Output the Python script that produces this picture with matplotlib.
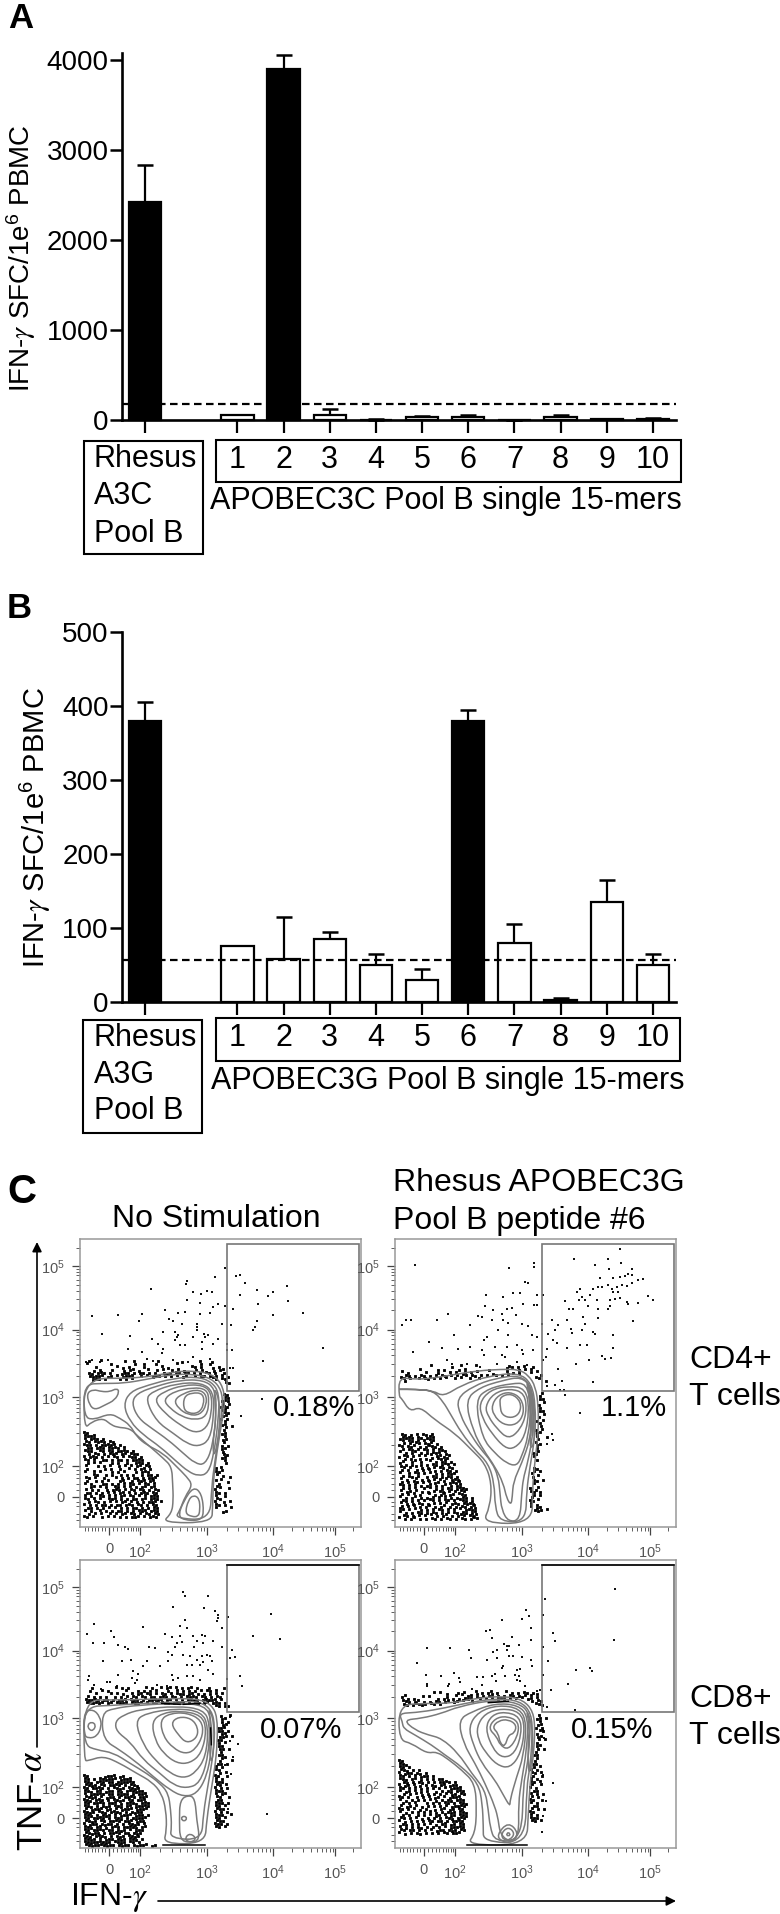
import numpy as np
import matplotlib
matplotlib.use("Agg")
import matplotlib.pyplot as plt
from matplotlib.patches import PathPatch, Rectangle, FancyArrowPatch
from matplotlib.path import Path
from matplotlib.transforms import blended_transform_factory

plt.rcParams['font.family'] = ['Liberation Sans', 'DejaVu Sans']
plt.rcParams['mathtext.fontset'] = 'stix'

W, H = 780, 1914

# Bar panels
BAR_X = [0, 2, 3, 4, 5, 6, 7, 8, 9, 10, 11]
BAR_NAMES = ['1', '2', '3', '4', '5', '6', '7', '8', '9', '10']
A_VALUES = [2420, 60, 3900, 60, 5, 30, 35, 0, 35, 8, 12]
A_ERR = [410, 0, 160, 60, 2, 10, 20, 0, 25, 2, 8]
A_BLACK = [0, 3]
A_CUTOFF = 175
A_TICKS = [0, 1000, 2000, 3000, 4000]
B_VALUES = [380, 75, 58, 85, 50, 30, 380, 80, 3, 135, 50]
B_ERR = [25, 0, 57, 10, 15, 15, 15, 25, 2, 30, 15]
B_BLACK = [0, 7]
B_CUTOFF = 57
B_TICKS = [0, 100, 200, 300, 400, 500]

# Flow plots, all in display channels (0-843 across, 0-864 up)
X_MAJOR = [87, 180, 381, 579, 765]
Y_MAJOR = [90, 182, 390, 592, 782]
X_LABELS = ['0', r'$\mathregular{10^{2}}$', r'$\mathregular{10^{3}}$', r'$\mathregular{10^{4}}$', r'$\mathregular{10^{5}}$']
Y_LABELS = ['0', r'$\mathregular{10^{2}}$', r'$\mathregular{10^{3}}$', r'$\mathregular{10^{4}}$', r'$\mathregular{10^{5}}$']
X_MINOR = [15, 25, 35, 45, 55, 65, 75, 100, 112, 123, 133, 143, 152, 160, 167, 174,
           240, 275, 300, 320, 335, 350, 362, 372, 440, 475, 500, 518, 533, 546, 558, 569,
           635, 668, 692, 710, 725, 738, 749, 758, 820]
Y_MINOR = [20, 40, 62, 75, 110, 130, 148, 160, 172, 245, 282, 308, 328, 344, 358, 370, 381,
           453, 490, 515, 535, 550, 564, 575, 584, 650, 684, 708, 726, 742, 755, 766, 775, 838]
GATE = (442, 408, 838, 848)

P1_DOTS = [(435,777),(405,751),(467,752),(480,755),(495,733),(320,738),(317,728),(212,715),(338,704),(363,700),
           (380,707),(395,704),(532,712),(580,705),(620,722),(563,692),(480,697),(625,678),(535,668),(415,668),
           (435,662),(400,660),(460,654),(320,680),(360,672),(255,650),(295,642),(315,645),(360,640),(390,642),
           (668,642),(580,635),(187,638),(115,635),(37,632),(177,618),(268,624),(280,618),(305,610),(350,610),
           (425,608),(452,605),(530,618),(525,600),(520,592),(65,578),(150,572),(250,585),(285,585),(290,570),
           (340,570),(372,580),(385,575),(215,565),(300,547),(315,547),(365,555),(400,550),(415,565),(440,550),
           (235,548),(250,535),(145,535),(365,535),(440,532),(455,530),(730,538),(245,522),(187,524),(548,498),
           (200,505),(220,498),(280,500),(325,495),(340,510),(390,505),(450,478),(460,478),(490,438),(547,384),
           (482,332),(17,495),(37,500),(60,495),(85,500),(350,600),(352,590),(285,560),(295,575),(375,570)]

P2_DOTS = [(60,785),(343,777),(417,792),(417,780),(538,803),(675,833),(640,803),(677,792),(643,775),(600,787),
           (710,775),(700,760),(690,753),(710,755),(615,747),(655,748),(675,750),(745,743),(730,740),(710,732),
           (595,715),(610,720),(620,720),(640,725),(650,715),(665,720),(680,725),(555,715),(545,705),(655,705),
           (670,705),(695,722),(560,690),(570,682),(553,680),(585,695),(605,680),(645,680),(660,685),(675,688),
           (760,693),(773,682),(730,672),(695,675),(700,670),(510,678),(533,655),(523,655),(580,662),(610,655),
           (640,655),(645,662),(565,630),(610,628),(715,618),(570,608),(560,590),(470,620),(490,605),(515,620),
           (527,595),(530,582),(460,580),(480,590),(595,585),(600,578),(655,575),(475,560),(485,552),(555,545),
           (577,545),(515,538),(653,538),(455,535),(452,510),(620,512),(630,505),(648,508),(583,500),(542,488),
           (445,502),(490,475),(500,438),(595,435),(480,425),(455,422),(495,412),(508,410),(510,397),(555,342),
           (470,278),(473,260),(455,248),(272,695),(325,690),(353,702),(375,702),(400,732),(390,735),(425,695),
           (425,665),(417,665),(270,663),(295,650),(335,655),(350,658),(363,635),(383,668),(445,695),(250,632),
           (260,630),(290,622),(320,638),(325,620),(340,613),(380,610),(400,603),(442,610),(160,638),(127,622),
           (47,622),(33,620),(20,605),(225,605),(177,575),(102,555),(275,570),(267,560),(310,590),(340,575),
           (410,575),(425,570),(140,538),(190,535),(225,540),(260,532),(300,540),(335,540),(365,545),(380,530),
           (415,530),(55,525),(267,515),(320,515),(330,510),(385,520),(155,500),(170,490),(215,490),(255,480),
           (305,490),(365,495),(395,485)]

P3_DOTS = [(310,768),(315,757),(385,757),(280,723),(372,719),(405,710),(415,700),(415,690),(410,680),(443,693),
           (315,683),(43,672),(300,667),(320,659),(190,663),(427,659),(93,650),(20,643),(255,643),(277,633),
           (300,637),(338,637),(365,640),(375,637),(102,633),(40,615),(72,615),(115,609),(290,615),(305,617),
           (350,620),(370,615),(400,620),(135,603),(145,597),(207,603),(225,599),(285,603),(343,603),(425,603),
           (265,587),(275,580),(310,580),(330,577),(457,593),(450,570),(465,573),(365,575),(380,580),(390,575),
           (395,560),(370,558),(350,563),(70,560),(127,562),(153,563),(200,560),(265,560),(190,547),(240,547),
           (320,550),(335,550),(360,550),(385,535),(400,523),(158,530),(175,523),(115,519),(27,517),(155,510),
           (170,505),(165,495),(25,505),(80,497),(90,497),(275,519),(295,510),(320,515),(340,515),(360,505),
           (280,505),(440,508),(480,515),(486,485),(43,490),(63,477),(110,485),(260,485),(230,490),(450,393),
           (450,320),(475,312),(460,273),(435,250),(453,222),(445,117),(560,102),(520,635),(573,703),(600,626)]

P4_DOTS = [(660,777),(658,625),(450,747),(392,714),(402,697),(382,687),(320,683),(443,699),(408,659),(285,653),
           (272,650),(473,645),(290,630),(350,633),(408,623),(480,620),(445,603),(327,613),(335,605),(343,605),
           (372,610),(95,599),(165,599),(223,595),(227,570),(307,593),(295,588),(277,563),(305,570),(335,593),
           (343,575),(355,575),(380,573),(407,565),(67,555),(460,560),(542,535),(585,540),(590,532),(320,540),
           (325,545),(300,523),(290,515),(365,535),(375,537),(360,520),(372,515),(412,547),(178,525),(92,519),
           (138,515),(192,510),(195,497),(247,513),(265,513),(302,500),(330,515),(445,519),(520,492),(467,475),
           (97,493),(95,485),(163,493),(160,485),(260,489),(230,477),(365,505),(375,500),(390,485),(425,470),
           (435,475),(540,415),(455,422),(445,355),(448,330),(445,220),(475,195),(453,140),(445,95),(442,47)]

# dense events, one character per 9 channels: band above the contours
P1_BAND = [".#...#.......#..#.......#.......#.....#...#.....",
           "#.......#.......#..#...#......#.......#..#......",
           "...#......#.#.#....#.....#.#.......##.#...#.#...",
           "..#.#...#...#.##.#..#..#.#..#.#.#...#.#...#.##..",
           ".##.###.#...###.#.##.#.#..###.##.##.#.#.##.#..#.",
           ".#####.##.#.####..#.#.###.#.#.#.##..#.##.###.#.#",
           "..###.#....#.#.#...........................#.##.",
           "..............................................##"]
P2_BAND = ["..........#......#..#....#..........##.#.#..#...",
           "......#.....#.#....#.#.......#.....#...#.#.#....",
           "#.#.....#...#...#.#..#.#.#.........#.#.#...#.#..",
           ".##.#.##.#.#.##.#.#.##.##.#.#.##.#.#..........#.",
           "##.#..#.##.#.#.#..#.#..#..#..................##.",
           ".#..............................................#"]
P3_BAND = ["..#.......#.#.#.....#.#..#.##.#.#.##.#...#....#.",
           ".#...#.#.....#...#.#.#.#...#..#.#.#.#.#.##.#....",
           "...#....#.#.#..#.##.##.#.##.#.###.##.#.#.#.#.#..",
           "#.#.#.#..#.#.#.##.##.##.###.##.#.####.##.#.##...",
           "#####.##.#.###.###.#.#####.##.#.#.####.#####.#..",
           "######.##.####.####.#.##.###.####.#.##.##.###.#.",
           "...........................................##.##"]
P4_BAND = ["...........#.#.....#.#...#.#.##.#..#.#.#.##.#...",
           ".#.....#.#.....#..#.#.##.#.#.##.#.#.##.#.#.#.#..",
           "#.#.#.......#.##.#.#.###.##.#.#.###.#.#.#.##.#..",
           "###.##.#.#.##.##.##.#..#...................#.##..",
           ".##.#####.##.#...............................###"]

# dense events along the right side of the contours
P1_SIDE = ["...##.","...##.","..###.","..#.#.","..###.","..##..","...##.","..##..","..#.#.","...#..",
           "..##..","...#.#","...#..","..##..","...#..","..##..","...#..","..#.#.","..##..","..#...",
           "...##.","..##..","...#..","...#..","..#...","#.#...","##....","#.#...","..#..#","#...#.",
           ".#....","##..#.","#.....","##.#..","#..#..","##....","#..#.#","##.#..","#....#","..##.."]
P2_SIDE = ["....#.","...#..","...##.","....#.","...#..","...#..","...##.","....#.","...#..","..#.#.",
           "...#..","...#..","..#.#.","..##..","..#...","..#..#","..#...","..##..","..#...","..#...",
           ".##...",".#....","..#...","......","......",".##...",".#.#..","#.#...",".#....",".##.#.",
           ".#....","..#...","#.#...","##.#..",".#.#..","#.#...","##....","#.#...","#.##..",".###.#"]
P3_SIDE = ["..#..#","..##..","..#.#.","..##..",".###..",".##.#.","..##..",".###.#",".##...",".#.#..",
           ".##...",".##.#.","..#...",".##...","..##..",".#...#",".##.#.","#.#...","##....",".#.#..",
           "##..#.","#.#...","###...","##.#..","#.#.#.","###...","#.##..","##..#.",".##...","###.#.",
           "##.#..","###...","#.#.#.","###..#","##.#..","###...","###.#.","##.#.."]
P4_SIDE = ["...#..","..##.#","...#..","..##..","..#.#.","...##.","..#...","..##..","...#.#","..#...",
           "..##..","..#.#.","..#...",".##...","..#...",".#....",".##...",".#.#..","#.#...","##.#..",
           ".#..#.","#.#...","##.#..","#..#..","#.#...",".##...","#.#.#.","#.#...","##..#.","#.#...",
           ".##...","#.#.#.","##....","#.#...","###...","##.#.."]

# dark cloud in the lower left corner
P1_CLOUD = ["##.", "####", "#.###.#", "##.####.##", "###.#.#####.#", ".##.###.####.#",
            "###..##.##.####.#", ".#.##.#.###.##.###", "#.###.#.#.##.#.###.#", "##.#..##.#.##.#.####",
            ".#.#.#...#.#..#..###.#", "#...#.#.#..#.#.#.##.##", ".#.....#.#..#..#.#.##.#", "#..#.#...#.#.#...#.###",
            "...##..#.#..#.#.#..#.##.#", "##.#..#...#.#.#.##.#.###", ".#..#.#.#...##..#.###.##", "#.#...##.#.#.#.##.#.##.#",
            "..##.#.#..##.#.#.#.##.##.", "#.#.#..#.###.#.##.##.#.##", ".##.#.#.#.#.##.#.#.###.##", "#.#..##.#.#.##.##.#.#.###",
            "##.#.#..###.#.#.##.##.###", ".#.##.#.#.#.##.#.#.#.###.#", "#.#.#.##.#.##.###.##.#.##", ".##.#.#.#.#.#.#.##.#.#.##.",
            "#.#..#.#.#.##.#.#.###.###", ".#.#.#..#.#.##.##.#.##.##.", "##.#..#.#.#.#.#.###.#.###"]
P2_CLOUD = [".##.#.#.##.#", ".####.##.###", "##.##.#.#.##.", ".#.#.##.###.#.", "##.###.#.####.#", ".#.##.#.##.#.##.",
            "#.#.##.#.#.###.#", ".##.#.#.#.#.##.##", "#.#.#..#.#.#.####", ".#..##.#..#.#.##.#",
            "#.#.#..#.#.##.###.#", "##.#.#.#.#.#.##.##", ".#.#..#.#.#.#.#.##.#", "#..#.##.#.#.#.#.###",
            ".#.##.#..#.##.#.##.#", "#.#..#.#.#.#.#.#.###.", ".#.#.##.#.#.##.#.####", "##.#.#.#.##.#.##.#.##.",
            ".#.#.#..#.#.#.#.##.####", "#.##.#.#.#.#.##.#.#.##.", ".#.#.#.#..#.#.##.##.###", "#.#.##.#.#.#.#.#.#.#.##.#",
            ".##.#.#.#.##.#.##.#.###.#", "#.#.#.##.#.#.#.#.###.####", ".#.#.#.#.##.#.##.#.#.##.##", "##.#.#.#.#.#.##.#.#.#.####",
            "#.#.#.##.#.##.#.#.##.##.##", ".##.#.#.#.#.#.##.#.###.###", "#.#.##.#.#.##.#.##.#.##.###"]
P3_CLOUD = ["##.....####.##", "##.#.######.####", "###.###.##.######", "####.##.####.#.###", "##.####.#.####.####",
            "###.##.###.##.######", "#.#####.##.####.#.###", "####.#.###.#.####.###", "###.###.#.####.##.###",
            "##.####.###.#.####.###", "###.#.###.###.##.#####", "#.####.##.#.####.####", "####.###.####.#.####",
            "###.#.###.#.####.###.#", "##.####.#.###.#.#####", "####.##.####.###.###", "#.###.####.#.#.####.#",
            "###.##.#.###.#####.##", "##.####.##.###.#.###", "#####.#.####.##.###", "###.####.#.###.####",
            "####.#.###.###.###.#", "#########.####.##.#...", "##########.####.#####.##"]
P4_CLOUD = ["##", "###", "##.#", "###.#.#", "#.###.##.#", "##.#.#.###.#", "###.##.#.#.#.##", ".##.#.##.#.#.####.#",
            "#.##.#.#.#.##.##.###", "##.#.#.#.#.#.#.#.####", "#.##.#.#.#..#.#.##.###", ".#.#.#.#.#.#.#.#.##.##",
            "##.#..#.#.#.##.#.####.", "#.#.#.#.#.#.#.#.##.###", ".#.#.#...#.#.#.##.#.###", "#.##.#.#.#.#.#.#.#####",
            "##.#.#.#.#..#.##.##.##.", "#.#.#.#.#.#.#.#.###.###", ".#.#..#.#.#.##.#.##.###", "##.#.#.#.#.#.#.###.###",
            "#.#.#.#.#.##.##.#.####", ".##.#.#.#.#.#.##.##.##", "#.#.#.##.#.#.#.#.#####", "##.##.#.#.#.###.###.##",
            "#.#.#.##.#.#.#.##.###"]

P1_CONTOURS = [
    [(12,446),(12,293),(35,316),(70,326),(90,309),(110,299),(150,296),(175,271),(210,241),(250,206),(275,181),(278,131),(280,81),(275,41),(245,13),(395,13),(398,61),(400,141),(410,221),(425,311),(436,381),(425,431),(395,459),(340,469),(280,465),(220,453),(150,446)],
    [(12,428),(70,431),(130,431),(200,443),(270,457),(340,459),(395,446),(425,411),(428,361),(418,281),(405,201),(395,121),(390,21),(285,26),(300,51),(315,91),(338,126),(320,151),(290,181),(250,221),(200,246),(170,271),(150,306),(120,326),(90,341),(40,321),(12,331)],
    [(20,401),(40,413),(65,406),(90,406),(110,416),(118,406),(105,381),(75,366),(45,351),(28,366)],
    [(130,366),(150,406),(205,426),(280,446),(350,451),(395,436),(418,401),(415,321),(402,221),(385,161),(355,153),(325,166),(290,196),(240,241),(190,276),(150,316)],
    [(155,371),(170,401),(230,423),(300,441),(370,441),(405,416),(410,351),(398,241),(375,186),(345,191),(310,221),(265,261),(215,296),(175,326)],
    [(197,381),(215,406),(290,431),(365,433),(400,406),(402,341),(390,261),(355,241),(320,251),(280,281),(230,316)],
    [(222,381),(250,406),(310,426),(370,426),(395,401),(395,341),(380,296),(345,281),(300,306),(255,341)],
    [(250,381),(280,406),(340,419),(380,413),(388,381),(380,331),(345,321),(305,331),(270,356)],
    [(282,381),(310,401),(350,413),(378,401),(380,366),(360,336),(325,336),(295,356)],
    [(312,391),(335,403),(370,401),(372,366),(355,341),(325,341),(310,356)],
    [(315,41),(325,81),(340,96),(358,86),(360,51),(355,31),(335,31)],
    [(295,36),(310,76),(340,121),(365,101),(372,41),(360,19),(310,21)],
    [(402,420),(418,380),(420,320),(412,250),(402,210),(398,250),(408,320),(405,380)],
]
P2_CONTOURS = [
    [(12,449),(60,443),(110,446),(170,456),(250,469),(320,473),(370,473),(400,456),(422,421),(430,361),(430,281),(420,201),(412,111),(412,11),(262,11),(285,61),(290,131),(270,191),(230,231),(180,281),(120,321),(75,361),(45,346),(20,386),(12,391)],
    [(12,413),(60,413),(115,409),(145,391),(200,426),(280,453),(370,463),(410,431),(422,361),(420,271),(405,181),(395,111),(392,16),(315,16),(300,61),(298,131),(280,191),(240,231),(200,281),(165,341),(145,375),(115,409),(60,413),(12,413)],
    [(185,386),(235,423),(300,446),(375,456),(410,421),(418,351),(412,261),(395,181),(385,146),(380,101),(375,21),(340,16),(320,51),(315,101),(310,151),(290,196),(255,236),(225,281),(195,336)],
    [(210,381),(255,419),(320,439),(380,451),(410,416),(413,341),(405,261),(380,191),(355,136),(352,91),(348,66),(335,86),(325,131),(300,181),(265,231),(235,286)],
    [(240,381),(280,416),(350,431),(395,431),(408,361),(400,271),(380,211),(365,183),(335,191),(300,221),(262,266)],
    [(252,371),(285,411),(340,423),(392,416),(403,351),(390,271),(360,236),(330,236),(290,281),(262,326)],
    [(270,361),(295,401),(345,416),(390,401),(395,341),(375,291),(340,263),(305,296),(280,331)],
    [(290,366),(310,396),(345,406),(380,386),(388,341),(365,306),(325,306),(295,336)],
    [(315,391),(350,401),(378,376),(375,341),(350,326),(320,336),(315,366)],
    [(392,450),(415,385),(422,310),(415,240),(404,240),(408,310),(404,385)],
    [(398,440),(410,385),(416,310),(412,260),(410,310),(406,385)],
]
P3_CONTOURS = [
    [(12,444),(100,444),(200,446),(300,449),(360,446),(395,429),(412,394),(412,314),(405,244),(395,184),(380,84),(375,14),(250,12),(260,54),(258,114),(245,164),(215,199),(170,224),(120,254),(70,276),(25,262),(12,262)],
    [(12,424),(100,428),(190,434),(300,439),(360,439),(395,414),(405,364),(400,284),(385,194),(370,104),(365,24),(270,29),(275,64),(272,114),(265,164),(240,194),(200,224),(150,254),(100,286),(50,294),(12,309)],
    [(12,409),(40,416),(60,394),(65,364),(50,334),(25,329),(12,339)],
    [(22,369),(35,379),(48,369),(40,352),(28,354)],
    [(65,404),(100,419),(180,429),(290,434),(375,429),(395,384),(395,294),(380,214),(350,162),(310,154),(270,174),(220,214),(180,249),(120,294),(70,324)],
    [(105,379),(130,399),(180,416),(290,426),(370,416),(390,374),(385,274),(360,194),(320,179),(280,189),(240,224),(190,264),(150,319),(110,349)],
    [(165,379),(195,404),(290,419),(365,409),(385,364),(378,274),(345,224),(310,209),(270,224),(225,264),(190,309)],
    [(215,379),(245,404),(300,412),(365,399),(380,354),(365,284),(330,254),(290,254),(250,284),(225,324)],
    [(240,384),(270,404),(320,406),(365,384),(370,339),(345,294),(315,282),(280,299),(250,334)],
    [(272,374),(295,394),(335,389),(355,359),(350,329),(320,314),(295,339)],
    [(302,89),(312,97),(322,89),(312,79)],
    [(315,31),(330,44),(348,31),(340,19),(322,19)],
    [(300,24),(298,84),(300,144),(325,159),(345,149),(350,84),(360,24),(330,16)],
    [(385,425),(402,380),(402,300),(394,250),(388,300),(392,380)],
]
P4_CONTOURS = [
    [(12,429),(90,434),(170,434),(240,449),(330,456),(385,444),(415,409),(420,354),(415,274),(405,194),(400,104),(395,9),(215,9),(240,44),(245,114),(240,194),(200,234),(160,266),(125,289),(95,284),(50,314),(12,324)],
    [(12,404),(60,406),(130,416),(210,434),(300,449),(375,442),(410,404),(412,334),(405,244),(395,184),(390,14),(265,19),(265,64),(262,134),(250,194),(200,244),(150,279),(110,309),(60,339),(25,359),(22,379)],
    [(25,384),(80,389),(140,404),(190,424),(290,444),(370,436),(405,404),(405,324),(395,234),(385,194),(380,24),(300,19),(285,64),(280,114),(270,174),(230,224),(190,284),(140,329),(100,339),(60,354)],
    [(190,384),(230,409),(300,434),(370,429),(400,394),(395,294),(380,204),(370,134),(372,34),(340,19),(315,44),(310,84),(300,124),(270,194),(240,254),(205,314)],
    [(220,364),(250,409),(310,429),(375,419),(395,374),(385,274),(365,214),(345,144),(345,124),(325,159),(300,204),(260,254),(235,309)],
    [(245,364),(270,404),(320,419),(375,409),(390,364),(378,284),(345,239),(305,249),(270,289),(250,324)],
    [(270,359),(290,399),(330,409),(375,394),(380,344),(360,284),(325,269),(295,294)],
    [(280,359),(300,389),(335,396),(372,379),(368,334),(340,294),(315,309),(305,334)],
    [(292,362),(310,382),(340,386),(365,369),(358,344),(340,339),(330,304),(315,314),(310,344)],
    [(333,37),(340,49),(347,37)],
    [(318,44),(340,64),(360,44),(345,24),(325,24)],
    [(305,39),(340,79),(372,44),(350,16),(320,19)],
    [(392,420),(412,370),(414,290),(402,210),(398,290),(404,370)],
]
P3_BLACK_LINES = [[(245,434),(300,431)], [(310,431),(360,434)], [(250,9),(375,9)], [(392,360),(394,310)]]
P4_BLACK_LINES = [[(215,8),(395,8)], [(280,436),(340,440)]]
P1_BLACK_LINES = []
P2_BLACK_LINES = []

# small shifts so the stipple does not read as a grid
ROW_SHIFT = [0, 4, 2, 6]
COL_SHIFT = [0, 3, 5, 2, 4]


def fx(px):
    return px / W


def fy(py):
    return 1 - py / H


def px_axes(fig, left, top, right, bottom):
    return fig.add_axes([fx(left), fy(bottom), (right - left) / W, (bottom - top) / H])


def add_box(fig, x0, y0, x1, y1):
    fig.add_artist(Rectangle((fx(x0), fy(y1)), (x1 - x0) / W, (y1 - y0) / H, transform=fig.transFigure,
                             fc='none', ec='black', lw=1.5))


def bar_panel(fig, top, bottom, ymax, ticks, values, err, black, cutoff):
    ax = px_axes(fig, 122, top, 676, bottom)
    colors = ['black' if i in black else 'white' for i in BAR_X]
    ax.errorbar(BAR_X, values, yerr=[np.zeros(len(err)), err], fmt='none', ecolor='black',
                elinewidth=1.6, capsize=5.8, capthick=1.8, zorder=1, clip_on=False)
    ax.bar(BAR_X, values, width=0.7, color=colors, edgecolor='black', linewidth=1.6, zorder=2, clip_on=False)
    ax.axhline(cutoff, color='black', lw=1.6, dashes=(3.4, 2), zorder=3)
    ax.set_xlim(-0.5, 11.5)
    ax.set_ylim(0, ymax)
    ax.set_xticks(BAR_X)
    ax.set_xticklabels([])
    ax.set_yticks(ticks)
    ax.tick_params(axis='y', length=8.6, width=1.8, labelsize=20, pad=1)
    ax.tick_params(axis='x', length=9.5, width=1.6)
    for side in ['top', 'right']:
        ax.spines[side].set_visible(False)
    for side in ['left', 'bottom']:
        ax.spines[side].set_linewidth(1.9)
    return ax


def stipple(ax, rows, x0, ytop):
    xs, ys = [], []
    for r, row in enumerate(rows):
        for c, ch in enumerate(row):
            if ch == '#':
                xs.append(x0 + 9 * c + ROW_SHIFT[r % 4])
                ys.append(ytop - 9 * r - COL_SHIFT[c % 5])
    pts = ax.scatter(xs, ys, s=4.2, marker='s', c='black', linewidths=0, zorder=2)
    pts.set_snap(False)


def smooth_loop(pts):
    pts = np.array(pts, dtype=float)
    mids = (pts + np.roll(pts, -1, axis=0)) / 2
    verts = [mids[-1]]
    codes = [Path.MOVETO]
    for p, m in zip(pts, mids):
        verts += [p, m]
        codes += [Path.CURVE3, Path.CURVE3]
    return Path(verts, codes)


def flow_panel(fig, left, top, dots, band, band_top, side, side_top, cloud, cloud_top, contours, black_lines, black_gate):
    ax = px_axes(fig, left, top, left + 281, top + 288)
    ax.set_xlim(0, 843)
    ax.set_ylim(0, 864)
    d = np.array(dots)
    ax.scatter(d[:, 0], d[:, 1], s=3.6, marker='s', c='#111111', linewidths=0, zorder=2)
    stipple(ax, band, 18, band_top)
    stipple(ax, side, 405, side_top)
    stipple(ax, cloud, 12, cloud_top)
    for loop in contours:
        ax.add_patch(PathPatch(smooth_loop(loop), fc='none', ec='#7a7a7a', lw=1.1, zorder=3))
    for line in black_lines:
        seg = np.array(line)
        ax.plot(seg[:, 0], seg[:, 1], color='black', lw=1.1, zorder=4)
    x0, y0, x1, y1 = GATE
    ax.add_patch(Rectangle((x0, y0), x1 - x0, y1 - y0, fc='none', ec='#777777', lw=1.2, zorder=4))
    if black_gate:
        ax.plot([x0, x1], [y1, y1], color='black', lw=1.1, zorder=5)
    ax.set_xticks(X_MAJOR)
    ax.set_xticklabels(X_LABELS)
    ax.set_yticks(Y_MAJOR)
    ax.set_yticklabels(Y_LABELS)
    ax.set_xticks(X_MINOR, minor=True)
    ax.set_yticks(Y_MINOR, minor=True)
    ax.tick_params(which='major', length=6, width=0.9, color='#444444', labelcolor='#555555', labelsize=10.5, pad=5)
    ax.tick_params(which='minor', length=3, width=0.6, color='#444444')
    for s in ax.spines.values():
        s.set_color('#999999')
        s.set_linewidth(1.1)
    return ax


def main():
    fig = plt.figure(figsize=(W / 100, H / 100), dpi=100)

    # A
    ax_a = bar_panel(fig, 53, 420, 4078, A_TICKS, A_VALUES, A_ERR, A_BLACK, A_CUTOFF)
    trans_a = blended_transform_factory(ax_a.transData, fig.transFigure)
    for x, name in zip(BAR_X[1:], BAR_NAMES):
        ax_a.text(x, fy(460), name, transform=trans_a, ha='center', va='center', fontsize=22, clip_on=False)
    add_box(fig, 84, 441, 203, 554)
    add_box(fig, 216, 440, 681, 482)
    for txt, y in zip(['Rhesus', 'A3C', 'Pool B'], [459, 496, 534]):
        fig.text(fx(94), fy(y), txt, ha='left', va='center', fontsize=22)
    fig.text(fx(446), fy(501), 'APOBEC3C Pool B single 15-mers', ha='center', va='center', fontsize=22)
    fig.text(fx(21), fy(258), r'IFN-$\gamma$ SFC/1e$\mathregular{^{6}}$ PBMC', rotation=90, ha='center', va='center', fontsize=20)
    fig.text(fx(8), fy(18), 'A', ha='left', va='center', fontsize=25, fontweight='bold')

    # B
    ax_b = bar_panel(fig, 632, 1002, 500, B_TICKS, B_VALUES, B_ERR, B_BLACK, B_CUTOFF)
    trans_b = blended_transform_factory(ax_b.transData, fig.transFigure)
    for x, name in zip(BAR_X[1:], BAR_NAMES):
        ax_b.text(x, fy(1038), name, transform=trans_b, ha='center', va='center', fontsize=22, clip_on=False)
    add_box(fig, 83, 1020, 202, 1133)
    add_box(fig, 216, 1018, 680, 1061)
    for txt, y in zip(['Rhesus', 'A3G', 'Pool B'], [1038, 1075, 1111]):
        fig.text(fx(94), fy(y), txt, ha='left', va='center', fontsize=22)
    fig.text(fx(448), fy(1081), 'APOBEC3G Pool B single 15-mers', ha='center', va='center', fontsize=22)
    fig.text(fx(35), fy(828), r'IFN-$\gamma$ SFC/1e$\mathregular{^{6}}$ PBMC', rotation=90, ha='center', va='center', fontsize=21)
    fig.text(fx(7), fy(608), 'B', ha='left', va='center', fontsize=25, fontweight='bold')

    # C
    flow_panel(fig, 80, 1239, P1_DOTS, P1_BAND, 501, P1_SIDE, 401, P1_CLOUD, 286, P1_CONTOURS, P1_BLACK_LINES, False)
    flow_panel(fig, 395, 1239, P2_DOTS, P2_BAND, 485, P2_SIDE, 405, P2_CLOUD, 281, P2_CONTOURS, P2_BLACK_LINES, False)
    flow_panel(fig, 80, 1560, P3_DOTS, P3_BAND, 484, P3_SIDE, 400, P3_CLOUD, 219, P3_CONTOURS, P3_BLACK_LINES, True)
    flow_panel(fig, 395, 1560, P4_DOTS, P4_BAND, 470, P4_SIDE, 400, P4_CLOUD, 264, P4_CONTOURS, P4_BLACK_LINES, True)

    fig.text(fx(7), fy(1192), 'C', ha='left', va='center', fontsize=29, fontweight='bold')
    fig.text(fx(216), fy(1219), 'No Stimulation', ha='center', va='center', fontsize=23)
    fig.text(fx(393), fy(1183), 'Rhesus APOBEC3G', ha='left', va='center', fontsize=23)
    fig.text(fx(393), fy(1221), 'Pool B peptide #6', ha='left', va='center', fontsize=23)
    for txt, x, y in [('0.18%', 355, 1408), ('1.1%', 667, 1408), ('0.07%', 342, 1730), ('0.15%', 653, 1730)]:
        fig.text(fx(x), fy(y), txt, ha='right', va='center', fontsize=21)
    for txt, y in [('CD4+', 1360), ('T cells', 1397), ('CD8+', 1699), ('T cells', 1736)]:
        fig.text(fx(689), fy(y), txt, ha='left', va='center', fontsize=23)

    fig.text(fx(33), fy(1801), r'TNF-$\alpha$', rotation=90, ha='center', va='center', fontsize=25)
    fig.text(fx(109), fy(1897), r'IFN-$\gamma$', ha='center', va='center', fontsize=23)
    fig.add_artist(FancyArrowPatch((fx(37), fy(1747)), (fx(37), fy(1242)), transform=fig.transFigure,
                                   arrowstyle='-|>', mutation_scale=14, color='black', lw=1.2, shrinkA=0, shrinkB=0))
    fig.add_artist(FancyArrowPatch((fx(158), fy(1901)), (fx(676), fy(1901)), transform=fig.transFigure,
                                   arrowstyle='-|>', mutation_scale=14, color='black', lw=1.2, shrinkA=0, shrinkB=0))

    fig.savefig('out.png', dpi=100)


if __name__ == "__main__":
    main()
